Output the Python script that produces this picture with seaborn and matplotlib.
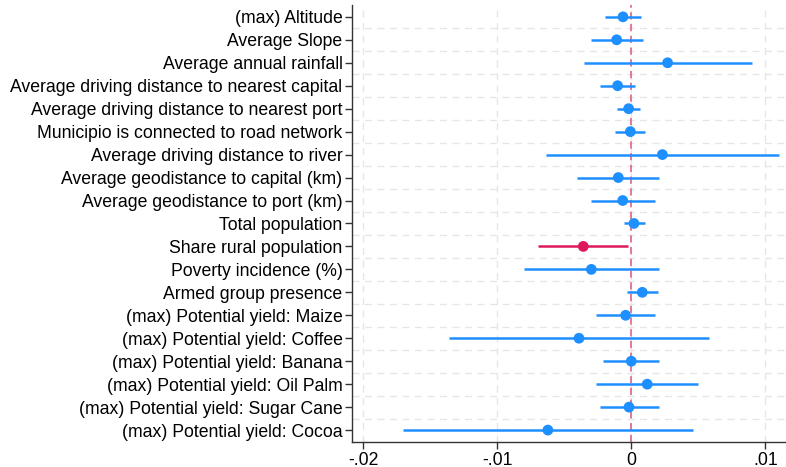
import matplotlib
matplotlib.use("Agg")
import matplotlib.pyplot as plt
import seaborn as sns
import numpy as np
import pandas as pd

labels = [
    "(max) Altitude",
    "Average Slope",
    "Average annual rainfall",
    "Average driving distance to nearest capital",
    "Average driving distance to nearest port",
    "Municipio is connected to road network",
    "Average driving distance to river",
    "Average geodistance to capital (km)",
    "Average geodistance to port (km)",
    "Total population",
    "Share rural population",
    "Poverty incidence (%)",
    "Armed group presence",
    "(max) Potential yield: Maize",
    "(max) Potential yield: Coffee",
    "(max) Potential yield: Banana",
    "(max) Potential yield: Oil Palm",
    "(max) Potential yield: Sugar Cane",
    "(max) Potential yield: Cocoa",
]
coef = [-0.00062, -0.00109, 0.00271, -0.00102, -0.00020, -0.00007, 0.00232,
        -0.00097, -0.00064, 0.00020, -0.00358, -0.00298, 0.00082,
        -0.00042, -0.00390, 0.00000, 0.00119, -0.00017, -0.00622]
lo = [-0.00196, -0.00298, -0.00355, -0.00231, -0.00104, -0.00119, -0.00634,
      -0.00403, -0.00303, -0.00054, -0.00694, -0.00800, -0.00032,
      -0.00266, -0.01360, -0.00211, -0.00261, -0.00234, -0.01701]
hi = [0.00072, 0.00087, 0.00901, 0.00030, 0.00062, 0.00105, 0.01105,
      0.00209, 0.00177, 0.00100, -0.00022, 0.00204, 0.00202,
      0.00177, 0.00582, 0.00209, 0.00495, 0.00204, 0.00460]
significant = [False] * 10 + [True] + [False] * 8
xticks = [-0.02, -0.01, 0.0, 0.01]
xticklabels = ["-.02", "-.01", "0", ".01"]

BLUE = "#1E8FFF"
RED = "#DC1A5A"

sns.set_style("white")
plt.rcParams["font.family"] = ["Liberation Sans", "DejaVu Sans"]

df = pd.DataFrame({"label": labels, "coef": coef, "lo": lo, "hi": hi,
                   "sig": significant})
df["pos"] = np.arange(len(df))
df["color"] = np.where(df["sig"], RED, BLUE)

fig = plt.figure(figsize=(7.86, 4.67), dpi=100)
ax = fig.add_axes([0.448, 0.054, 0.552, 0.935])

# grid
for x in xticks:
    ax.axvline(x, color="#E6E6E6", lw=1, ls=(0, (5, 4)), zorder=0)
for p in df["pos"].values[:-1]:
    ax.axhline(p + 0.5, color="#E6E6E6", lw=1, ls=(0, (5, 4)), zorder=0)

ax.axvline(0, color="#E0708F", lw=1.3, ls=(0, (4, 2.5)), zorder=1)

ax.hlines(df["pos"], df["lo"], df["hi"], colors=df["color"], lw=1.8, zorder=2)
sns.scatterplot(data=df, x="coef", y="pos", hue="sig",
                palette={False: BLUE, True: RED}, s=60, edgecolor="none",
                legend=False, ax=ax, zorder=3)

ax.set_xlim(-0.02082, 0.01154)
ax.set_ylim(len(df) - 0.49, -0.51)
ax.set_yticks(df["pos"])
ax.set_yticklabels(df["label"], fontsize=12.7, color="black")
ax.set_xticks(xticks)
ax.set_xticklabels(xticklabels, fontsize=12.7, color="black")
ax.set_xlabel("")
ax.set_ylabel("")
ax.tick_params(axis="both", direction="out", length=5, width=1, color="#333333",
               pad=2, left=True, bottom=True)
for s in ["top", "right"]:
    ax.spines[s].set_visible(False)
for s in ["left", "bottom"]:
    ax.spines[s].set_color("#333333")
    ax.spines[s].set_linewidth(1)

fig.savefig("out.png", dpi=100)
